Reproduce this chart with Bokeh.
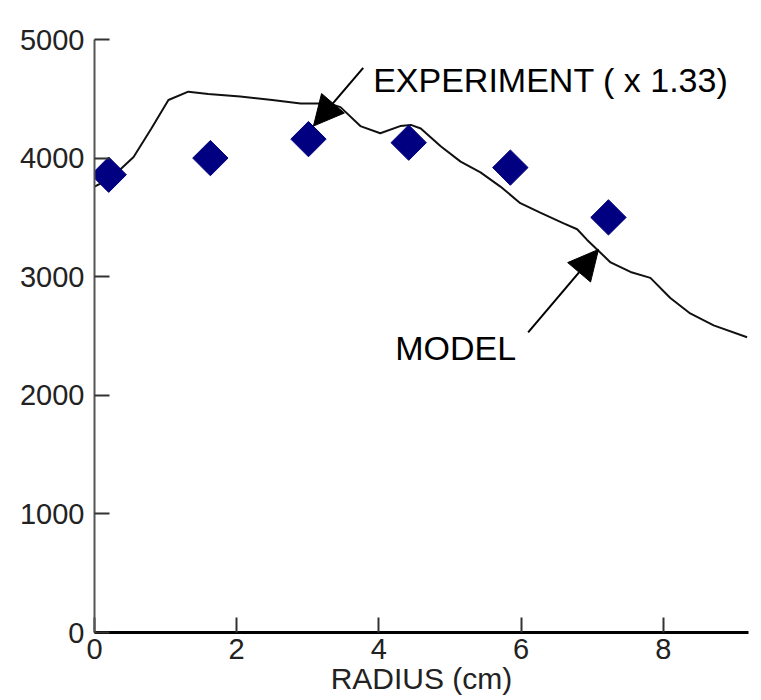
from bokeh.plotting import figure
from bokeh.models import Range1d, FixedTicker, Label, Arrow, NormalHead
from bokeh.embed import file_html
from bokeh.resources import INLINE

# Model curve (radius cm, value)
model_r = [0.0, 0.23, 0.55, 0.8, 1.04, 1.32, 1.6, 2.05, 2.5, 2.9, 3.08, 3.3, 3.46,
           3.74, 4.02, 4.30, 4.45, 4.59, 4.87, 5.15, 5.43, 5.71, 5.99, 6.27, 6.60,
           6.79, 6.93, 7.07, 7.26, 7.54, 7.82, 8.10, 8.38, 8.71, 9.18]
model_v = [3760, 3830, 4010, 4250, 4490, 4560, 4540, 4520, 4490, 4460, 4460, 4460, 4430,
           4270, 4210, 4270, 4280, 4250, 4100, 3970, 3880, 3760, 3620, 3540, 3450,
           3400, 3310, 3230, 3120, 3040, 2990, 2820, 2690, 2590, 2490]

# Experiment points (x 1.33)
exp_r = [0.20, 1.63, 3.01, 4.42, 5.85, 7.23]
exp_v = [3860, 4000, 4160, 4130, 3920, 3500]

x_ticks = [0, 2, 4, 6, 8]
y_ticks = [0, 1000, 2000, 3000, 4000, 5000]

# Annotations
exp_label = "EXPERIMENT ( x 1.33)"
exp_label_pos = (3.92, 4660)
exp_arrow = (3.78, 4760, 3.08, 4270)
model_label = "MODEL"
model_label_pos = (4.23, 2400)
model_arrow = (6.10, 2530, 7.09, 3230)

FONT = "Liberation Sans"

p = figure(frame_width=654, frame_height=593, min_border_left=94, min_border_top=39,
           min_border_right=8, min_border_bottom=20,
           x_range=Range1d(0, 9.2), y_range=Range1d(0, 5000),
           output_backend="svg", toolbar_location=None)
p.outline_line_color = None
p.xgrid.visible = False
p.ygrid.visible = False
p.background_fill_color = "white"

for ax in (p.xaxis[0], p.yaxis[0]):
    ax.major_tick_in = 15
    ax.major_tick_out = 0
    ax.minor_tick_line_color = None
    ax.major_tick_line_width = 2
    ax.major_tick_line_color = "#333333"
    ax.major_label_text_font = FONT
    ax.major_label_text_font_size = "29px"
    ax.major_label_text_color = "#222222"
    ax.axis_label_text_font = FONT
    ax.axis_label_text_font_style = "normal"
    ax.axis_label_text_font_size = "30px"
    ax.axis_label_text_color = "#222222"

p.xaxis.ticker = FixedTicker(ticks=x_ticks)
p.yaxis.ticker = FixedTicker(ticks=y_ticks)
p.xaxis.axis_line_width = 3
p.xaxis.axis_line_color = "black"
p.yaxis.axis_line_width = 2
p.yaxis.axis_line_color = "#555555"
p.xaxis.axis_label = "RADIUS (cm)"
p.xaxis.major_label_standoff = 6
p.xaxis.axis_label_standoff = 0
p.yaxis.major_label_standoff = 10

p.line(model_r, model_v, line_color="#111111", line_width=2)
p.scatter(exp_r, exp_v, marker="square", angle=0.785398, size=25,
          fill_color="#000080", line_color="#000080")

p.add_layout(Label(x=exp_label_pos[0], y=exp_label_pos[1], text=exp_label,
                   text_font=FONT, text_font_size="34px", text_color="black",
                   text_baseline="alphabetic"))
p.add_layout(Label(x=model_label_pos[0], y=model_label_pos[1], text=model_label,
                   text_font=FONT, text_font_size="34px", text_color="black",
                   text_baseline="alphabetic"))

for (xs, ys, xe, ye) in (exp_arrow, model_arrow):
    p.add_layout(Arrow(end=NormalHead(size=30, fill_color="black", line_color="black"),
                       x_start=xs, y_start=ys, x_end=xe, y_end=ye,
                       line_width=2, line_color="black"))

open("out.html", "w").write(file_html(p, INLINE))
